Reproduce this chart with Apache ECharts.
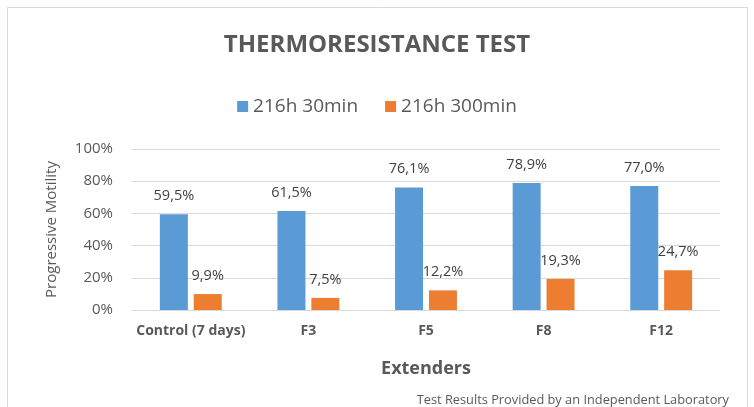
<!DOCTYPE html>
<html><head><meta charset="utf-8">
<script src="https://cdn.jsdelivr.net/npm/echarts@6/dist/echarts.min.js"></script>
<style>html,body{margin:0;padding:0;background:#fff}#c{width:754px;height:407px}</style>
</head><body><div id="c"></div>
<script>
var categories = ['Control (7 days)', 'F3', 'F5', 'F8', 'F12'];
var series30 = [59.5, 61.5, 76.1, 78.9, 77.0];
var series300 = [9.9, 7.5, 12.2, 19.3, 24.7];
var seriesNames = ['216h 30min', '216h 300min'];
var yTicks = [0, 20, 40, 60, 80, 100];

var FONT = '"Open Sans", "Noto Sans", sans-serif';
var chart = echarts.init(document.getElementById('c'));
function fmt(p){ return p.value.toFixed(1).replace('.', ',') + '%'; }
var labelCfg = {show:true, position:'top', distance:11, formatter:fmt, color:'#404040', fontSize:14.5, fontFamily:FONT};
chart.setOption({
  animation:false,
  backgroundColor:'#fff',
  graphic:[{type:'rect', shape:{x:7.5,y:7.5,width:740,height:420}, style:{fill:'none', stroke:'#d9d9d9', lineWidth:1}, silent:true}],
  title:[{text:'THERMORESISTANCE TEST', left:'center', top:28, textStyle:{fontFamily:FONT, fontSize:24, fontWeight:'bold', color:'#595959'}},
         {text:'Test Results Provided by an Independent Laboratory', right:20, top:389, textStyle:{fontFamily:FONT, fontSize:12.8, fontWeight:'normal', color:'#595959'}}],
  legend:{top:92, left:'center', itemWidth:11, itemHeight:11, itemGap:27, icon:'rect',
    textStyle:{fontFamily:FONT, fontSize:19, color:'#595959'}, data:seriesNames},
  grid:{left:132, right:34, top:149, bottom:97},
  xAxis:{type:'category', data:categories,
    axisLine:{lineStyle:{color:'#d9d9d9'}}, axisTick:{show:false},
    axisLabel:{fontFamily:FONT, fontSize:14, color:'#595959', fontWeight:'bold', margin:14, interval:0},
    name:'Extenders', nameLocation:'middle', nameGap:50,
    nameTextStyle:{fontFamily:FONT, fontSize:18, fontWeight:'bold', color:'#595959'}},
  yAxis:{type:'value', min:0, max:100, interval:20,
    axisLabel:{fontFamily:FONT, fontSize:15, color:'#595959', margin:19, formatter:function(v){return v+'%';}},
    splitLine:{lineStyle:{color:'#d9d9d9'}}, axisLine:{show:false}, axisTick:{show:false},
    name:'Progressive Motility', nameLocation:'middle', nameGap:73, nameRotate:90,
    nameTextStyle:{fontFamily:FONT, fontSize:15, color:'#595959'}},
  series:[
    {name:seriesNames[0], type:'bar', data:series30, barWidth:28, barGap:'21%', itemStyle:{color:'#5b9bd5'}, label:labelCfg},
    {name:seriesNames[1], type:'bar', data:series300, barWidth:28, barGap:'21%', itemStyle:{color:'#ed7d31'}, label:labelCfg}
  ]
});
</script></body></html>
